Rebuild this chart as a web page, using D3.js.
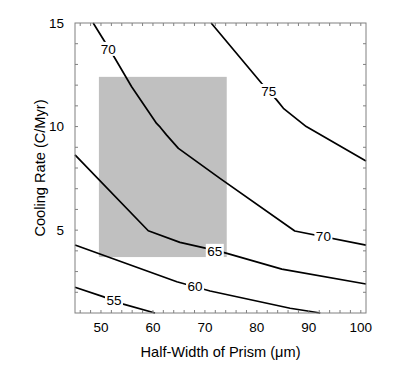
<!DOCTYPE html>
<html>
<head>
<meta charset="utf-8">
<script src="https://cdn.jsdelivr.net/npm/d3@7"></script>
<style>
  body { margin: 0; background: #fff; }
  text { font-family: "Liberation Sans", Arial, sans-serif; }
</style>
</head>
<body>
<div id="chart"></div>
<script>
const width = 418;
const height = 374;
const margin = {top: 23, right: 52, bottom: 61, left: 75};

// axis ranges and ticks
const xDomain = [45, 101];
const yDomain = [1, 15];
const xTicks = [50, 60, 70, 80, 90, 100];
const yTicks = [5, 10, 15];

// shaded box (half-width, cooling rate)
const boxX = [49.6, 74.2];
const boxY = [3.7, 12.4];

// contour lines, [half-width, cooling rate]
const levels = [55, 60, 65, 70, 75];
const contour55 = [[45, 2.24], [50.4, 1.79], [54.3, 1.43], [60.4, 1.0]];
const contour60 = [[45, 4.28], [64.6, 2.51], [71.0, 2.06], [86.4, 1.23], [92.2, 1.0]];
const contour65 = [[45, 8.63], [59.1, 4.97], [65.2, 4.41], [70.3, 4.12], [73.9, 3.9], [84.8, 3.12], [101, 2.4]];
const contour70 = [[48.5, 15], [52.4, 13.42], [55.9, 11.92], [60.7, 10.15], [61.4, 9.97], [62.6, 9.6],
                   [64.9, 8.95], [72.9, 7.5], [87.3, 4.96], [101, 4.28]];
const contour75 = [[71.2, 15], [80.9, 12.09], [83.8, 11.29], [85.1, 10.88], [89.5, 10.0], [101, 8.34]];

// contour label positions
const labelText = ["55", "60", "65", "70", "70", "75"];
const labelX = [52.5, 68.1, 71.9, 51.4, 92.8, 82.3];
const labelY = [1.63, 2.28, 4.0, 13.75, 4.69, 11.72];

const x = d3.scaleLinear().domain(xDomain).range([margin.left, width - margin.right]);
const y = d3.scaleLinear().domain(yDomain).range([height - margin.bottom, margin.top]);

const svg = d3.select("#chart")
    .append("svg")
    .attr("width", width)
    .attr("height", height);

svg.append("rect")
    .attr("width", width)
    .attr("height", height)
    .attr("fill", "#fff");

svg.append("rect")
    .attr("x", x(boxX[0]))
    .attr("y", y(boxY[1]))
    .attr("width", x(boxX[1]) - x(boxX[0]))
    .attr("height", y(boxY[0]) - y(boxY[1]))
    .attr("fill", "#c0c0c0");

const line = d3.line()
    .x(d => x(d[0]))
    .y(d => y(d[1]));

const contours = [contour55, contour60, contour65, contour70, contour75];

svg.append("g")
    .selectAll("path")
    .data(contours)
    .enter()
    .append("path")
    .attr("d", line)
    .attr("fill", "none")
    .attr("stroke", "#000")
    .attr("stroke-width", 1.7)
    .attr("stroke-linejoin", "round");

const labels = svg.append("g")
    .selectAll("g")
    .data(labelText)
    .enter()
    .append("g")
    .attr("transform", (d, i) => "translate(" + x(labelX[i]) + "," + y(labelY[i]) + ")");

labels.append("rect")
    .attr("x", -9)
    .attr("y", -7)
    .attr("width", 18)
    .attr("height", 14)
    .attr("fill", "#fff");

labels.append("text")
    .attr("text-anchor", "middle")
    .attr("dy", "0.36em")
    .attr("font-size", 13.5)
    .text(d => d);

// frame with small inward ticks on all sides
const x0 = x(xDomain[0]), x1 = x(xDomain[1]);
const y0 = y(yDomain[1]), y1 = y(yDomain[0]);
const frameColor = "#808080";

const xMinor = d3.range(46, 101, 2);
const yMinor = d3.range(2, 15, 1);
const tickLen = 3;

const ticks = svg.append("g")
    .attr("stroke", frameColor)
    .attr("stroke-width", 1);

xMinor.forEach(v => {
    ticks.append("line").attr("x1", x(v)).attr("x2", x(v)).attr("y1", y1).attr("y2", y1 - tickLen);
    ticks.append("line").attr("x1", x(v)).attr("x2", x(v)).attr("y1", y0).attr("y2", y0 + tickLen);
});
yMinor.forEach(v => {
    ticks.append("line").attr("x1", x0).attr("x2", x0 + tickLen).attr("y1", y(v)).attr("y2", y(v));
    ticks.append("line").attr("x1", x1).attr("x2", x1 - tickLen).attr("y1", y(v)).attr("y2", y(v));
});

svg.append("rect")
    .attr("x", x0)
    .attr("y", y0)
    .attr("width", x1 - x0)
    .attr("height", y1 - y0)
    .attr("fill", "none")
    .attr("stroke", frameColor)
    .attr("stroke-width", 1);

svg.append("g")
    .selectAll("text")
    .data(xTicks)
    .enter()
    .append("text")
    .attr("x", d => x(d))
    .attr("y", y1 + 19)
    .attr("text-anchor", "middle")
    .attr("font-size", 13.5)
    .text(d => d);

svg.append("g")
    .selectAll("text")
    .data(yTicks)
    .enter()
    .append("text")
    .attr("x", x0 - 11)
    .attr("y", d => y(d))
    .attr("dy", "0.36em")
    .attr("text-anchor", "end")
    .attr("font-size", 13.5)
    .text(d => d);

svg.append("text")
    .attr("x", (x0 + x1) / 2)
    .attr("y", y1 + 44)
    .attr("text-anchor", "middle")
    .attr("font-size", 14.6)
    .text("Half-Width of Prism (\u03bcm)");

svg.append("text")
    .attr("transform", "translate(" + 45 + "," + (y0 + y1) / 2 + ") rotate(-90)")
    .attr("text-anchor", "middle")
    .attr("font-size", 14.6)
    .text("Cooling Rate (C/Myr)");
</script>
</body>
</html>
